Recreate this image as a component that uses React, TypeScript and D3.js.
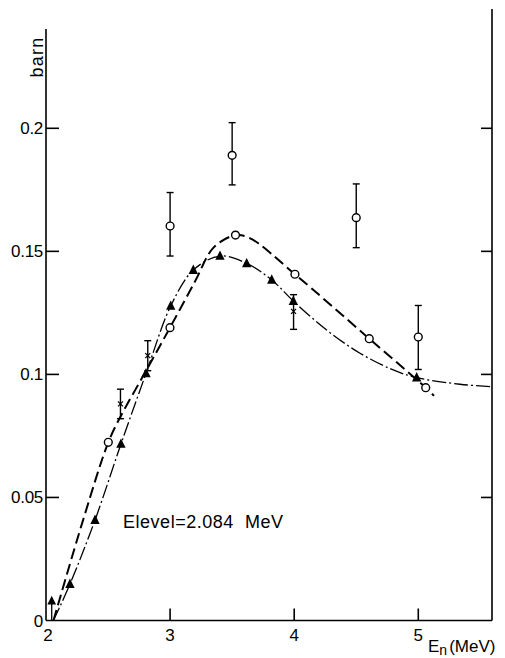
import React from "react";
import * as d3 from "d3";

// ---- data (E in MeV, sigma in barn) ----
const xTicks = [3, 4, 5];
const xTickLabels = ["2", "3", "4", "5"];
const xLabelValues = [2, 3, 4, 5];
const yTicks = [0.05, 0.1, 0.15, 0.2];
const yTickLabels = ["0", "0.05", "0.1", "0.15", "0.2"];
const yLabelValues = [0, 0.05, 0.1, 0.15, 0.2];

// open circles with error bars (measured)
const expE = [3.0, 3.5, 4.5, 5.0];
const expV = [0.1603, 0.189, 0.1637, 0.1152];
const expLo = [0.1481, 0.177, 0.1515, 0.102];
const expHi = [0.1739, 0.2023, 0.1774, 0.128];

// crosses with error bars
const crossE = [2.6, 2.82, 3.995];
const crossV = [0.088, 0.1076, 0.1256];
const crossLo = [0.082, 0.1015, 0.1183];
const crossHi = [0.094, 0.1137, 0.1324];

// open circles on dashed curve
const circE = [2.502, 2.999, 3.527, 4.006, 4.605, 5.06];
const circV = [0.0724, 0.119, 0.1566, 0.1407, 0.1145, 0.0946];

// dashed curve
const dashE = [2.06, 2.3, 2.502, 2.6, 2.81, 2.999, 3.2, 3.35, 3.527, 3.645, 4.006, 4.605, 5.06, 5.127];
const dashV = [0, 0.041, 0.0724, 0.0828, 0.1018, 0.119, 0.1377, 0.1515, 0.1566, 0.1553, 0.1407, 0.1145, 0.0946, 0.0913];

// triangles on dash-dot curve
const triE = [2.193, 2.395, 2.604, 2.806, 3.005, 3.187, 3.402, 3.617, 3.819, 3.993, 4.987];
const triV = [0.0148, 0.0408, 0.0717, 0.1004, 0.1278, 0.1424, 0.1481, 0.1451, 0.1384, 0.1298, 0.0987];

// dash-dot curve
const ddE = [2.06, 2.193, 2.395, 2.604, 2.806, 3.005, 3.187, 3.402, 3.617, 3.819, 3.993, 4.262, 4.53, 4.798, 4.987, 5.336, 5.596];
const ddV = [0, 0.0148, 0.0408, 0.0717, 0.1004, 0.1278, 0.1424, 0.1481, 0.1451, 0.1384, 0.1298, 0.118, 0.1086, 0.1018, 0.0987, 0.096, 0.095];

// threshold arrow
const arrowE = 2.046;
const arrowV = 0.0083;

const font = "'Liberation Sans', Arial, sans-serif";

export default function App() {
  const left = 46, right = 492, bottom = 620.5;
  const x = d3.scaleLinear().domain([2, 5.594]).range([left, right]);
  const y = d3.scaleLinear().domain([0, 0.2]).range([bottom, 128.3]);

  const line = d3
    .line<[number, number]>()
    .x((d) => x(d[0]))
    .y((d) => y(d[1]))
    .curve(d3.curveCatmullRom.alpha(0.5));

  const dashPath = line(dashE.map((e, i) => [e, dashV[i]] as [number, number])) || "";
  const ddPath = line(ddE.map((e, i) => [e, ddV[i]] as [number, number])) || "";

  const tri = (cx: number, cy: number, s: number) =>
    `M${cx},${cy - s * 0.65} L${cx + s * 0.55},${cy + s * 0.45} L${cx - s * 0.55},${cy + s * 0.45} Z`;

  const errBar = (e: number, lo: number, hi: number, key: string) => (
    <g key={key} stroke="#000" strokeWidth={1.4}>
      <line x1={x(e)} x2={x(e)} y1={y(lo)} y2={y(hi)} />
      <line x1={x(e) - 3.5} x2={x(e) + 3.5} y1={y(lo)} y2={y(lo)} />
      <line x1={x(e) - 3.5} x2={x(e) + 3.5} y1={y(hi)} y2={y(hi)} />
    </g>
  );

  return (
    <svg
      width={505}
      height={658}
      style={{ position: "absolute", left: 0, top: 0, background: "#fff" }}
      fontFamily={font}
    >
      <rect x={0} y={0} width={505} height={658} fill="#fff" />
      {/* axes */}
      <g stroke="#000" strokeWidth={1.6} fill="none">
        <line x1={left} x2={left} y1={29} y2={bottom} />
        <line x1={right} x2={right} y1={9} y2={bottom} />
        <line x1={left} x2={right} y1={bottom} y2={bottom} />
        {yTicks.map((t) => (
          <line key={"yl" + t} x1={left} x2={left + 13} y1={y(t)} y2={y(t)} />
        ))}
        {yTicks.map((t) => (
          <line key={"yr" + t} x1={right - 11} x2={right} y1={y(t)} y2={y(t)} />
        ))}
        {xTicks.map((t) => (
          <line key={"xt" + t} x1={x(t)} x2={x(t)} y1={bottom} y2={bottom - 12} />
        ))}
      </g>

      {/* tick labels */}
      <g fontSize={17} fill="#000">
        {yLabelValues.map((v, i) => (
          <text key={"ylab" + i} x={left - 3} y={y(v) + 6} textAnchor="end" letterSpacing={-0.3}>
            {yTickLabels[i]}
          </text>
        ))}
        {xLabelValues.map((v, i) => (
          <text key={"xlab" + i} x={x(v) + (i === 0 ? 2 : 0)} y={bottom + 20} textAnchor="middle">
            {xTickLabels[i]}
          </text>
        ))}
      </g>

      {/* axis titles */}
      <text
        transform={`translate(42.5,57) rotate(-90)`}
        fontSize={18}
        textAnchor="middle"
        letterSpacing={1.2}
      >
        barn
      </text>
      <text x={428} y={652} fontSize={17}>
        E<tspan fontSize={14} dy={3}>n</tspan>
        <tspan dy={-3} dx={2}>(MeV)</tspan>
      </text>
      <text x={123} y={528} fontSize={18} textLength={160} lengthAdjust="spacing" xmlSpace="preserve">
        Elevel=2.084  MeV
      </text>

      {/* curves */}
      <path d={dashPath} fill="none" stroke="#000" strokeWidth={2} strokeDasharray="11,5" />
      <path d={ddPath} fill="none" stroke="#000" strokeWidth={1.3} strokeDasharray="14,3,2,3" />

      {/* threshold arrow */}
      <g stroke="#000" strokeWidth={1.3}>
        <line x1={x(arrowE)} x2={x(arrowE)} y1={y(0)} y2={y(arrowV)} />
        <path d={tri(x(arrowE), y(arrowV) + 1, 6)} fill="#000" />
      </g>

      {/* error bars */}
      {expE.map((e, i) => errBar(e, expLo[i], expHi[i], "ee" + i))}
      {crossE.map((e, i) => errBar(e, crossLo[i], crossHi[i], "ce" + i))}

      {/* crosses */}
      <g stroke="#000" strokeWidth={1.2}>
        {crossE.map((e, i) => (
          <g key={"cx" + i}>
            <line x1={x(e) - 2.5} x2={x(e) + 2.5} y1={y(crossV[i]) - 2.5} y2={y(crossV[i]) + 2.5} />
            <line x1={x(e) - 2.5} x2={x(e) + 2.5} y1={y(crossV[i]) + 2.5} y2={y(crossV[i]) - 2.5} />
          </g>
        ))}
      </g>

      {/* triangles */}
      {triE.map((e, i) => (
        <path key={"tr" + i} d={tri(x(e), y(triV[i]), 8.5)} fill="#000" />
      ))}

      {/* open circles */}
      <g fill="#fff" stroke="#000" strokeWidth={1.4}>
        {expE.map((e, i) => (
          <circle key={"ec" + i} cx={x(e)} cy={y(expV[i])} r={3.9} />
        ))}
        {circE.map((e, i) => (
          <circle key={"cc" + i} cx={x(e)} cy={y(circV[i])} r={3.9} />
        ))}
      </g>
    </svg>
  );
}
